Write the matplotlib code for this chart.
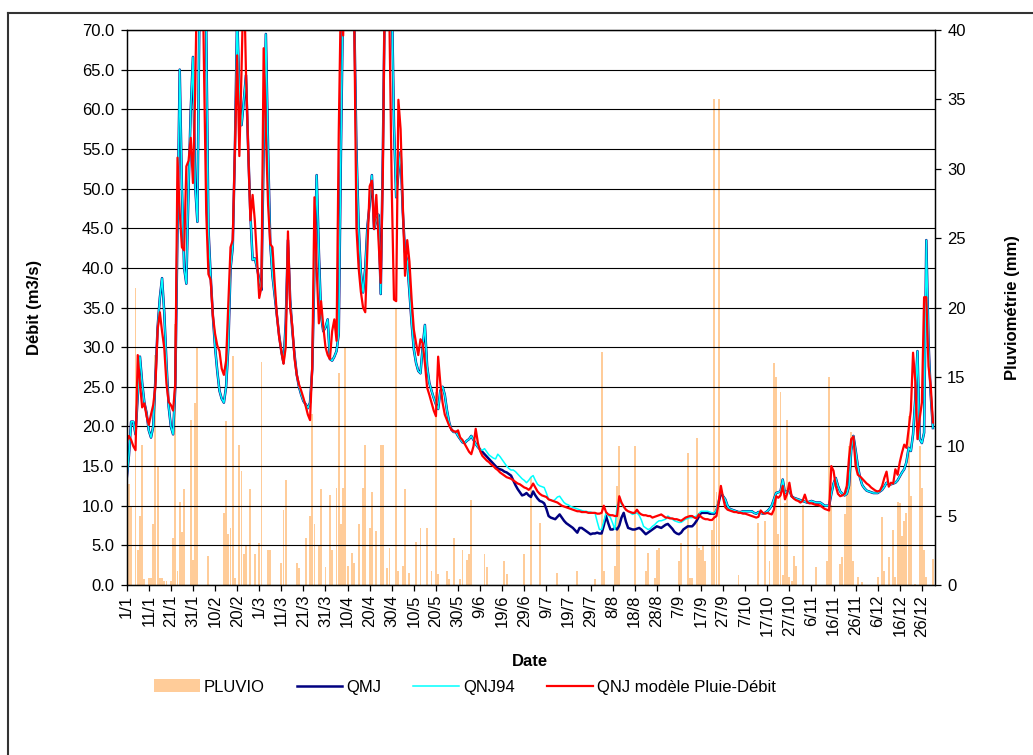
import matplotlib
matplotlib.use('Agg')
import matplotlib.pyplot as plt
from matplotlib.lines import Line2D
from matplotlib.ticker import FormatStrFormatter
import numpy as np

plt.rcParams['font.family'] = ['Liberation Sans', 'DejaVu Sans']
plt.rcParams['font.size'] = 12

# ---------------- data (one value per day, 1/1 .. 31/12, leap year) ----------------
DATE_LABELS = ['1/1', '11/1', '21/1', '31/1', '10/2', '20/2', '1/3', '11/3', '21/3', '31/3',
               '10/4', '20/4', '30/4', '10/5', '20/5', '30/5', '9/6', '19/6', '29/6', '9/7',
               '19/7', '29/7', '8/8', '18/8', '28/8', '7/9', '17/9', '27/9', '7/10', '17/10',
               '27/10', '6/11', '16/11', '26/11', '6/12', '16/12', '26/12']

PLUVIO = [
    17.1, 7.3, 5.7, 0, 21.4, 2.5, 5.0, 10.1, 0.4, 0,
    0.5, 0.5, 4.4, 16.6, 8.5, 0.5, 0.5, 0.3, 0.3, 0,
    0.3, 3.4, 18.8, 1.0, 6.0, 3.8, 6.9, 0, 0, 11.9,
    1.8, 13.1, 17.1, 0, 0, 0, 0, 2.1, 0, 0,
    0, 0, 0, 0, 5.2, 11.8, 3.7, 4.1, 16.5, 0.5,
    0, 10.1, 8.2, 2.2, 2.8, 0, 6.9, 0, 2.2, 0,
    3.0, 16.1, 0, 0, 2.5, 2.5, 0, 0, 0, 0,
    1.6, 5.4, 7.6, 0, 0, 0, 0, 1.6, 1.2, 0,
    0, 3.4, 0, 5.0, 12.3, 4.4, 0, 2.8, 6.9, 0,
    1.3, 0, 6.5, 2.5, 0, 7.0, 15.3, 4.4, 7.0, 17.1,
    1.4, 0, 2.3, 1.6, 0, 4.4, 0, 7.0, 10.1, 0,
    4.1, 6.7, 0, 3.9, 0, 10.1, 10.1, 0, 1.2, 2.7,
    0, 0, 19.9, 1.0, 0, 1.4, 6.9, 0, 0.9, 0,
    0, 3.1, 0, 4.1, 0, 0, 4.1, 0, 1.0, 0,
    13.9, 0.8, 0, 0, 0, 1.0, 0.4, 0, 3.4, 0,
    0, 0.4, 2.5, 0, 1.8, 2.2, 6.1, 0, 0, 0,
    0, 0, 2.2, 1.3, 0, 0, 0, 0, 0, 0,
    0, 1.7, 0.8, 0, 0, 0, 0, 0, 0, 0,
    2.2, 0, 0, 7.8, 0, 0, 0, 4.5, 0, 0,
    0, 0, 0, 0, 0, 0.9, 0, 0, 0, 0,
    0, 0, 0, 0, 1.0, 0, 0, 0, 0, 0,
    0, 0, 0.4, 0, 0, 16.8, 1.0, 0, 0, 0,
    0, 1.4, 7.1, 10.0, 0, 0, 0, 0, 0, 0,
    10.0, 0, 0, 0, 0, 1.0, 2.3, 0, 0, 0.5,
    2.5, 2.7, 0, 0, 0, 0, 0, 0, 0, 0,
    1.7, 3.0, 0, 0, 9.5, 0.5, 0.5, 0, 10.6, 2.7,
    2.5, 2.9, 1.7, 0, 0, 4.0, 35.0, 6.7, 35.0, 0,
    0, 0, 0, 0, 0, 0, 0, 0.7, 0, 0,
    0, 0, 0, 0, 0, 0, 4.5, 0, 0, 4.6,
    0, 1.7, 0, 16.0, 15.0, 3.7, 13.9, 0.7, 5.9, 11.9,
    0.6, 0.3, 2.1, 1.4, 0, 0, 5.8, 0, 0, 0,
    0, 0, 1.3, 0, 0, 0, 0, 1.7, 15.0, 5.8,
    0, 0, 0, 1.5, 2.0, 5.1, 6.5, 10.0, 11.0, 1.7,
    0, 0.6, 0, 0.2, 0, 0, 0, 0, 0, 0,
    0.6, 0, 4.9, 1.0, 0, 2.0, 0, 4.0, 0.6, 6.0,
    5.9, 3.5, 4.6, 5.2, 12.2, 6.4, 0, 0.1, 0, 10.0,
    7.0, 2.5, 0.6, 0, 0, 1.9,
]

QMJ = [
    13.4, 16.3, 20.6, 20.6, 19.0, 24.0, 28.8, 25.5, 23.0, 21.7,
    19.5, 18.6, 20.0, 26.0, 32.5, 36.2, 38.7, 34.4, 28.0, 22.5,
    20.0, 19.0, 25.0, 45.0, 65.0, 50.0, 40.0, 38.0, 50.0, 60.0,
    66.6, 50.3, 45.8, 75.0, 90.0, 88.0, 70.0, 45.0, 39.0, 34.0,
    30.0, 27.0, 24.5, 23.5, 23.0, 25.0, 30.0, 39.9, 42.6, 55.0,
    72.0, 62.0, 58.0, 61.0, 64.3, 55.0, 46.7, 41.0, 41.2, 40.0,
    38.5, 37.2, 55.0, 69.5, 55.0, 43.0, 39.0, 36.5, 34.0, 31.5,
    29.5, 28.0, 33.0, 43.5, 36.0, 32.0, 29.0, 26.5, 25.0, 24.0,
    23.2, 22.8, 22.3, 23.0, 27.2, 40.0, 51.7, 42.0, 34.0, 32.0,
    32.5, 33.5, 28.5, 28.3, 28.8, 29.5, 31.7, 55.0, 75.0, 90.0,
    95.0, 88.0, 80.0, 72.0, 55.0, 45.3, 39.4, 36.9, 40.0, 45.3,
    48.0, 51.7, 44.9, 46.0, 46.7, 36.7, 55.0, 78.0, 90.0, 85.0,
    75.0, 58.0, 48.9, 52.0, 54.6, 47.0, 42.0, 40.8, 37.0, 33.0,
    29.7, 28.0, 27.0, 26.7, 30.0, 32.8, 27.6, 25.5, 24.5, 23.6,
    22.8, 22.2, 24.5, 25.0, 24.0, 22.0, 20.5, 19.6, 19.3, 19.3,
    18.8, 18.4, 18.0, 17.9, 18.2, 18.4, 18.8, 18.3, 17.8, 17.4,
    17.1, 16.8, 16.5, 16.2, 15.9, 15.6, 15.3, 15.0, 14.7, 14.6,
    14.5, 14.3, 14.2, 14.0, 13.8, 13.2, 12.6, 12.1, 11.7, 11.3,
    11.4, 11.6, 11.3, 11.1, 11.8, 11.3, 10.9, 10.6, 10.5, 10.3,
    9.6, 8.7, 8.5, 8.4, 8.3, 8.6, 8.9, 8.5, 8.1, 7.8,
    7.6, 7.4, 7.2, 6.9, 6.6, 7.2, 7.2, 7.0, 6.8, 6.6,
    6.4, 6.5, 6.5, 6.6, 6.5, 6.5, 7.5, 8.7, 7.8, 7.0,
    7.0, 7.2, 7.0, 7.5, 8.5, 9.1, 8.0, 7.2, 7.1, 7.0,
    7.0, 7.1, 7.2, 7.0, 6.7, 6.4, 6.6, 6.8, 7.0, 7.2,
    7.4, 7.3, 7.2, 7.4, 7.6, 7.7, 7.4, 7.1, 6.7, 6.5,
    6.4, 6.6, 7.0, 7.2, 7.4, 7.4, 7.4, 7.7, 8.1, 8.6,
    9.1, 9.1, 9.1, 9.1, 9.0, 9.0, 9.0, 9.4, 10.4, 11.6,
    11.2, 10.8, 10.0, 9.6, 9.5, 9.4, 9.3, 9.2, 9.2, 9.3,
    9.3, 9.3, 9.3, 9.3, 9.1, 9.0, 9.2, 9.1, 9.0, 9.1,
    9.3, 9.6, 10.0, 10.8, 11.6, 11.7, 11.8, 13.3, 11.6, 11.8,
    12.0, 11.2, 11.0, 10.9, 10.8, 10.7, 10.6, 10.5, 10.4, 10.5,
    10.6, 10.5, 10.4, 10.4, 10.4, 10.2, 10.0, 10.0, 10.0, 11.5,
    12.8, 13.5, 12.5, 11.8, 11.5, 11.3, 11.5, 12.5, 17.0, 18.8,
    17.0, 15.0, 13.5, 12.6, 12.2, 11.9, 11.8, 11.7, 11.6, 11.6,
    11.6, 11.8, 12.0, 12.4, 12.9, 12.7, 12.7, 12.8, 12.9, 13.2,
    13.7, 14.2, 14.6, 15.5, 17.3, 16.9, 19.0, 23.4, 29.5, 18.4,
    17.9, 19.2, 43.5, 30.6, 24.0, 19.8,
]

QNJ94 = [
    13.4, 16.3, 20.6, 20.6, 19.0, 24.0, 28.8, 25.5, 23.0, 21.7,
    19.5, 18.6, 20.0, 26.0, 32.5, 36.2, 38.7, 34.4, 28.0, 22.5,
    20.0, 19.0, 25.0, 45.0, 65.0, 50.0, 40.0, 38.0, 50.0, 60.0,
    66.6, 50.3, 45.8, 75.0, 90.0, 88.0, 70.0, 45.0, 39.0, 34.0,
    30.0, 27.0, 24.5, 23.5, 23.0, 25.0, 30.0, 39.9, 42.6, 55.0,
    72.0, 62.0, 58.0, 61.0, 64.3, 55.0, 46.7, 41.0, 41.2, 40.0,
    38.5, 37.2, 55.0, 69.5, 55.0, 43.0, 39.0, 36.5, 34.0, 31.5,
    29.5, 28.0, 33.0, 43.5, 36.0, 32.0, 29.0, 26.5, 25.0, 24.0,
    23.2, 22.8, 22.3, 23.0, 27.2, 40.0, 51.7, 42.0, 34.0, 32.0,
    32.5, 33.5, 28.5, 28.3, 28.8, 29.5, 31.7, 55.0, 75.0, 90.0,
    95.0, 88.0, 80.0, 72.0, 55.0, 45.3, 39.4, 36.9, 40.0, 45.3,
    48.0, 51.7, 44.9, 46.0, 46.7, 36.7, 55.0, 78.0, 90.0, 85.0,
    75.0, 58.0, 48.9, 52.0, 54.6, 47.0, 42.0, 40.8, 37.0, 33.0,
    29.7, 28.0, 27.0, 26.7, 30.0, 32.8, 27.6, 25.5, 24.5, 23.6,
    22.8, 22.2, 24.5, 25.0, 24.0, 22.0, 20.5, 19.6, 19.3, 19.3,
    18.8, 18.4, 18.0, 17.9, 18.2, 18.4, 18.8, 18.3, 17.8, 17.4,
    17.1, 17.0, 17.2, 16.8, 16.4, 16.2, 16.0, 15.9, 16.5, 16.2,
    15.8, 15.4, 15.0, 14.7, 14.5, 14.5, 14.3, 14.0, 13.7, 13.4,
    13.2, 12.9, 13.2, 13.6, 13.8, 13.2, 12.7, 12.5, 12.4, 12.3,
    11.6, 10.8, 10.7, 10.6, 10.8, 11.1, 11.2, 10.8, 10.4, 10.2,
    10.1, 9.9, 9.8, 9.7, 9.6, 9.5, 9.4, 9.3, 9.3, 9.2,
    9.2, 9.1, 9.1, 8.0, 7.0, 7.0, 8.0, 9.1, 8.8, 8.5,
    7.8, 7.0, 10.0, 10.6, 10.2, 9.8, 9.5, 9.3, 9.1, 8.9,
    9.0, 9.1, 8.8, 8.2, 7.4, 7.2, 7.0, 7.1, 7.4, 7.6,
    7.9, 8.1, 8.1, 8.2, 8.3, 8.7, 8.5, 8.3, 8.1, 8.0,
    7.9, 7.9, 8.1, 8.3, 8.4, 8.5, 8.5, 8.6, 8.7, 9.0,
    9.3, 9.3, 9.3, 9.3, 9.2, 9.1, 9.1, 9.5, 10.8, 12.0,
    11.2, 10.8, 10.0, 9.6, 9.5, 9.4, 9.3, 9.2, 9.2, 9.3,
    9.3, 9.3, 9.3, 9.3, 9.1, 9.0, 9.2, 9.1, 9.0, 9.1,
    9.3, 9.6, 10.0, 10.8, 11.6, 11.7, 11.8, 13.3, 11.6, 11.8,
    12.0, 11.2, 11.0, 10.9, 10.8, 10.7, 10.6, 10.5, 10.4, 10.5,
    10.6, 10.5, 10.4, 10.4, 10.4, 10.2, 10.0, 10.0, 10.0, 11.5,
    12.8, 13.5, 12.5, 11.8, 11.5, 11.3, 11.5, 12.5, 17.0, 18.8,
    17.0, 15.0, 13.5, 12.6, 12.2, 11.9, 11.8, 11.7, 11.6, 11.6,
    11.6, 11.8, 12.0, 12.4, 12.9, 12.7, 12.7, 12.8, 12.9, 13.2,
    13.7, 14.2, 14.6, 15.5, 17.3, 16.9, 19.0, 23.4, 29.5, 18.4,
    17.9, 19.2, 43.5, 30.6, 24.0, 19.8,
]

QNJ_MODELE = [
    18.1, 18.8, 18.3, 17.5, 17.0, 29.0, 25.4, 22.4, 22.9, 21.3,
    20.2, 21.5, 22.7, 25.1, 32.2, 34.4, 32.0, 29.9, 25.4, 23.1,
    22.7, 22.0, 25.4, 53.9, 47.0, 42.6, 42.2, 52.8, 53.5, 56.4,
    50.7, 62.0, 80.0, 92.0, 85.0, 65.0, 47.0, 39.2, 38.5, 34.0,
    31.7, 30.2, 29.5, 27.3, 26.5, 28.3, 35.3, 42.6, 43.5, 55.0,
    66.8, 54.1, 65.0, 78.0, 64.6, 55.0, 46.0, 49.2, 46.0, 41.0,
    36.2, 37.6, 67.7, 57.1, 48.0, 43.0, 42.6, 38.1, 34.0, 31.3,
    29.5, 27.9, 30.0, 44.6, 35.0, 32.6, 28.5, 26.5, 25.3, 24.5,
    23.6, 22.6, 21.5, 20.8, 27.6, 48.9, 40.0, 33.0, 35.8, 32.6,
    30.0, 29.0, 28.5, 32.0, 33.5, 30.8, 57.1, 75.0, 69.3, 85.0,
    95.0, 90.0, 80.0, 72.0, 45.1, 40.0, 37.0, 35.0, 34.4, 42.6,
    50.3, 51.0, 44.9, 49.2, 43.5, 38.1, 52.6, 80.0, 90.0, 70.0,
    50.0, 36.0, 35.8, 61.2, 57.5, 48.0, 39.0, 43.5, 40.8, 36.0,
    32.2, 30.5, 29.0, 31.0, 30.5, 28.0, 24.9, 24.0, 23.0, 22.0,
    21.3, 28.8, 25.4, 23.0, 21.5, 20.8, 20.1, 19.6, 19.4, 19.3,
    19.5, 18.6, 18.3, 17.8, 17.3, 16.8, 16.5, 17.5, 19.7, 17.9,
    16.9, 16.3, 16.0, 15.7, 15.5, 15.2, 15.0, 14.7, 14.5, 14.2,
    14.0, 13.8, 13.6, 13.5, 13.4, 13.2, 13.0, 12.8, 12.7, 12.5,
    12.3, 12.2, 12.0, 12.3, 12.8, 12.3, 11.8, 11.5, 11.3, 11.2,
    11.1, 10.8, 10.7, 10.6, 10.5, 10.4, 10.2, 10.0, 9.9, 9.8,
    9.7, 9.6, 9.5, 9.4, 9.3, 9.3, 9.2, 9.2, 9.2, 9.1,
    9.1, 9.1, 9.1, 9.0, 9.0, 9.1, 10.0, 9.2, 8.9, 8.8,
    8.8, 8.7, 8.7, 11.2, 10.4, 9.9, 9.5, 9.3, 9.2, 9.1,
    9.1, 9.5, 9.1, 8.9, 8.8, 8.8, 8.7, 8.7, 8.5, 8.6,
    8.7, 8.8, 8.9, 8.7, 8.5, 8.5, 8.4, 8.4, 8.3, 8.3,
    8.2, 8.1, 8.3, 8.5, 8.6, 8.7, 8.7, 8.5, 8.4, 8.9,
    8.6, 8.4, 8.3, 8.3, 8.2, 8.2, 8.5, 8.7, 10.5, 12.5,
    11.0, 9.8, 9.5, 9.4, 9.3, 9.2, 9.2, 9.1, 9.1, 9.0,
    9.0, 8.9, 8.8, 8.7, 8.6, 8.5, 8.6, 9.4, 9.1, 9.0,
    9.1, 9.0, 8.9, 9.5, 11.2, 11.0, 11.3, 12.5, 10.8, 11.5,
    12.9, 11.2, 10.9, 10.7, 10.6, 10.4, 10.6, 11.4, 10.5, 10.3,
    10.3, 10.2, 10.1, 10.1, 10.0, 9.8, 9.6, 9.5, 9.4, 15.0,
    14.4, 12.5, 11.5, 11.2, 11.3, 11.5, 12.5, 16.0, 18.4, 18.7,
    15.0, 13.9, 13.7, 13.4, 13.1, 12.8, 12.6, 12.3, 12.1, 11.9,
    11.8, 11.9, 12.5, 13.5, 14.3, 12.4, 12.9, 12.8, 14.6, 13.9,
    15.5, 16.7, 17.7, 17.3, 19.6, 22.0, 29.3, 25.7, 18.4, 21.0,
    23.0, 36.3, 36.3, 27.6, 25.1, 20.5,
]

# ---------------- figure ----------------
W_PX, H_PX = 1033, 755
fig = plt.figure(figsize=(W_PX / 100, H_PX / 100), dpi=100)
fig.patch.set_facecolor('white')

left_px, right_px, top_px, bottom_px = 126.7, 934.7, 30.0, 585.0
ax = fig.add_axes([left_px / W_PX, 1 - bottom_px / H_PX,
                   (right_px - left_px) / W_PX, (bottom_px - top_px) / H_PX])
ax2 = ax.twinx()
ax.set_zorder(ax2.get_zorder() + 1)
ax.patch.set_visible(False)

bars = ax2.bar(np.arange(len(PLUVIO)), PLUVIO, width=0.85, color='#FFCC99',
               linewidth=0, label='PLUVIO')
l1, = ax.plot(np.arange(len(QMJ)), QMJ, color='#000080', lw=1.8, label='QMJ')
l2, = ax.plot(np.arange(len(QNJ94)), QNJ94, color='#00FFFF', lw=1.1, label='QNJ94')
l3, = ax.plot(np.arange(len(QNJ_MODELE)), QNJ_MODELE, color='#FF0000', lw=1.6,
              label='QNJ modèle Pluie-Débit')

ax.set_xlim(0, 365.8)
ax.set_ylim(0, 70)
ax2.set_ylim(0, 40)

ax.set_yticks(np.arange(0, 71, 5))
ax.yaxis.set_major_formatter(FormatStrFormatter('%.1f'))
ax2.set_yticks(np.arange(0, 41, 5))

ax.set_xticks(np.arange(len(DATE_LABELS)) * 10)
ax.set_xticklabels(DATE_LABELS, rotation=90)

ax.yaxis.grid(True, color='black', lw=0.8)
ax.xaxis.grid(False)

for a in (ax, ax2):
    for s in a.spines.values():
        s.set_color('black')
        s.set_linewidth(0.9)

ax.tick_params(axis='x', direction='out', length=4, width=0.9, pad=3, labelsize=12)
ax.tick_params(axis='y', direction='out', length=4, width=0.9, pad=5, labelsize=12)
ax2.tick_params(axis='y', direction='out', length=4, width=0.9, pad=5, labelsize=12)

ax.set_ylabel('Débit (m3/s)', fontweight='bold', fontsize=12)
ax.yaxis.set_label_coords((34 - left_px) / (right_px - left_px), 0.5)
ax.yaxis.label.set_va('center')
ax2.set_ylabel('Pluviométrie (mm)', fontweight='bold', fontsize=12)
ax2.yaxis.set_label_coords((1012 - left_px) / (right_px - left_px), 0.5)
ax2.yaxis.label.set_va('center')
ax.set_xlabel('Date', fontweight='bold', fontsize=12)
ax.xaxis.set_label_coords((530 - left_px) / (right_px - left_px),
                          (bottom_px - 661) / (bottom_px - top_px))
ax.xaxis.label.set_va('center')

fig.legend([bars, l1, l2, l3],
           ['PLUVIO', 'QMJ', 'QNJ94', 'QNJ modèle Pluie-Débit'],
           loc='center left', bbox_to_anchor=(154 / W_PX, 1 - 687 / H_PX),
           ncol=4, frameon=False, fontsize=12, handlelength=2.75,
           handleheight=0.78, handletextpad=0.25, columnspacing=1.9,
           borderpad=0, borderaxespad=0)

# outer chart border (left and top edges visible)
fig.add_artist(Line2D([8 / W_PX, 8 / W_PX], [0, 1 - 13 / H_PX],
                      transform=fig.transFigure, color='#333333', lw=1.5))
fig.add_artist(Line2D([8 / W_PX, 1], [1 - 13 / H_PX, 1 - 13 / H_PX],
                      transform=fig.transFigure, color='#333333', lw=1.5))

fig.savefig('out.png', dpi=100)
